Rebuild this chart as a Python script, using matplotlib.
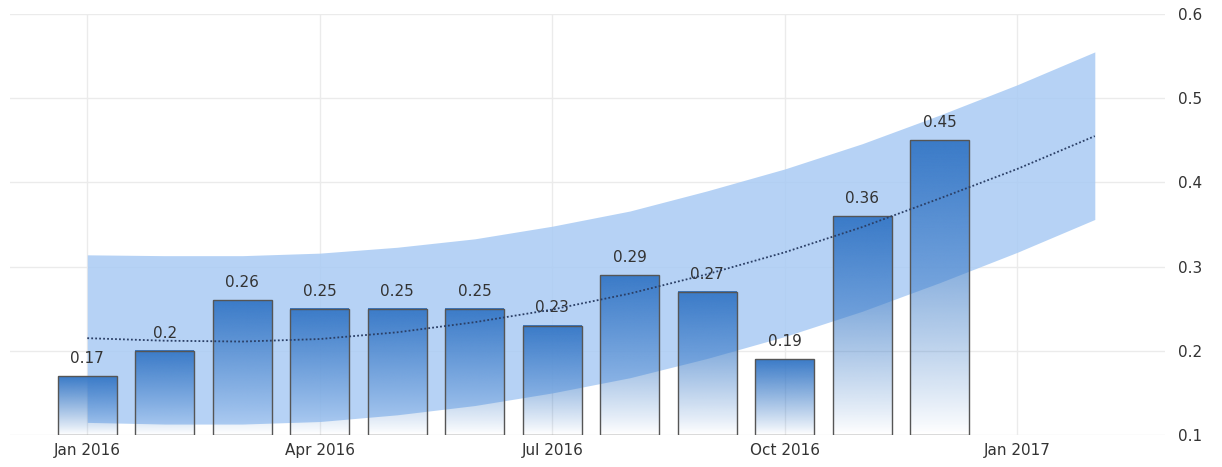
import numpy as np
import matplotlib
matplotlib.use("Agg")
import matplotlib.pyplot as plt
from matplotlib.colors import to_rgb

# monthly values, Jan 2016 .. Dec 2016
months = ["Jan", "Feb", "Mar", "Apr", "May", "Jun",
          "Jul", "Aug", "Sep", "Oct", "Nov", "Dec"]
values = [0.17, 0.2, 0.26, 0.25, 0.25, 0.25, 0.23, 0.29, 0.27, 0.19, 0.36, 0.45]

# trend line and forecast band, Jan 2016 .. Feb 2017
trend = [0.215, 0.212, 0.211, 0.214, 0.222, 0.234, 0.249, 0.268, 0.291,
         0.317, 0.347, 0.381, 0.416, 0.455]
band_upper = [0.314, 0.313, 0.313, 0.316, 0.323, 0.333, 0.348, 0.366, 0.390,
              0.416, 0.446, 0.480, 0.516, 0.555]
band_lower = [0.115, 0.113, 0.113, 0.116, 0.124, 0.135, 0.150, 0.168, 0.191,
              0.217, 0.247, 0.281, 0.317, 0.356]

tick_pos = [0, 3, 6, 9, 12]
tick_labels = ["Jan 2016", "Apr 2016", "Jul 2016", "Oct 2016", "Jan 2017"]
y_ticks = [0.1, 0.2, 0.3, 0.4, 0.5, 0.6]

fig = plt.figure(figsize=(12.22, 4.67), dpi=100)
ax = fig.add_axes([0.008, 0.0685, 0.945, 0.9015])

x = np.arange(len(values))
xt = np.arange(len(trend))
base = 0.1
width = 0.76
blue = to_rgb("#3b7bc8")

# band
ax.fill_between(xt, band_lower, band_upper, color="#a9cbf4", alpha=0.85,
                linewidth=0, zorder=1)

# bars with a fading gradient
for xi, v in zip(x, values):
    grad = np.zeros((100, 1, 4))
    grad[:, 0, :3] = blue
    grad[:, 0, 3] = np.linspace(1.0, 0.0, 100) ** 0.9
    ax.imshow(grad, extent=[xi - width / 2, xi + width / 2, base, v],
              aspect="auto", zorder=2, interpolation="bicubic")
    ax.bar(xi, v - base, bottom=base, width=width, facecolor="none",
           edgecolor="#555555", linewidth=1.0, zorder=3)
    ax.text(xi, v + 0.012, f"{v:g}", ha="center", va="bottom",
            fontsize=11, color="#333333", zorder=4)

# trend
ax.plot(xt, trend, linestyle=(0, (1, 1.2)), color="#2b3f66", linewidth=1.3,
        zorder=4)

ax.set_xlim(-1.0, 13.9)
ax.set_ylim(0.1, 0.6)
ax.set_xticks(tick_pos)
ax.set_xticklabels(tick_labels)
ax.set_yticks(y_ticks)
ax.set_yticklabels([f"{t:g}" for t in y_ticks])
ax.yaxis.tick_right()
ax.tick_params(axis="both", length=0, labelsize=11, colors="#333333")
ax.tick_params(axis="y", pad=10)
ax.tick_params(axis="x", pad=6)
ax.grid(True, color="#ebebeb", linewidth=1, zorder=0)
ax.set_axisbelow(True)
for s in ax.spines.values():
    s.set_visible(False)

fig.savefig("out.png", dpi=100)
